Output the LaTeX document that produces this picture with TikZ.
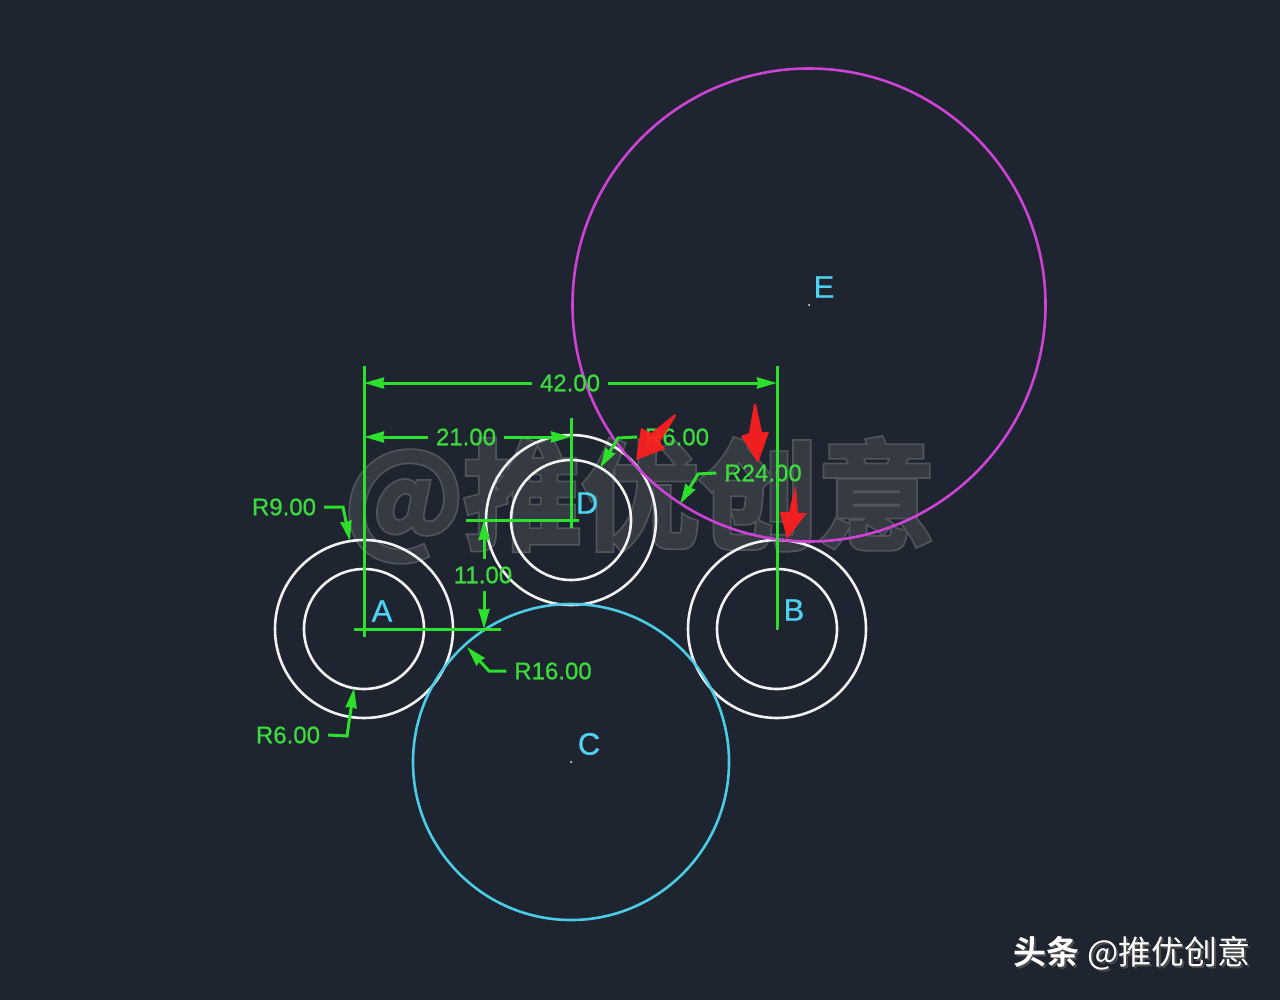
\documentclass[tikz,border=0pt]{standalone}
\usepackage{fontspec}
\usepackage{xcolor}
\usetikzlibrary{arrows.meta}
\setmainfont{Liberation Sans}
\newfontfamily\dimfont{Liberation Sans}[FakeBold=0.7]
\newfontfamily\cjk{Noto Sans CJK SC}[BoldFont={Noto Sans CJK SC Bold}]
\newfontfamily\cjkedge{Noto Sans CJK SC Bold}[FakeBold=4.5]
\newfontfamily\cjkinner{Noto Sans CJK SC Bold}[FakeBold=1.5]
\definecolor{bgcad}{HTML}{1E2530}
\definecolor{dimgreen}{HTML}{2CE02C}
\definecolor{textgreen}{HTML}{3CDC3C}
\definecolor{lettercyan}{HTML}{4FD2F0}
\definecolor{circcyan}{HTML}{4CCBE4}
\definecolor{circpurple}{HTML}{CF42D6}
\definecolor{markfill}{HTML}{353A43}
\definecolor{markedge}{HTML}{50545B}
\definecolor{markred}{HTML}{FF1F1F}

\begin{document}
\begin{tikzpicture}[%
	x=1pt, y=-1pt,
	dimline/.style={draw=dimgreen, line width=3pt},
	dimtip/.style={dimline, -{Stealth[length=20pt,width=11pt,inset=1pt]}},
	dimtext/.style={text=textgreen, font=\dimfont\fontsize{24}{24}\selectfont, inner xsep=8pt, inner ysep=8pt, outer sep=0pt},
	letter/.style={text=lettercyan, font=\dimfont\fontsize{31}{31}\selectfont, inner sep=0pt},
	whitecirc/.style={draw=white!95!black, line width=2.6pt},
	redarrow/.style={fill=markred, draw=none, opacity=.93}]
	\useasboundingbox (0,0) rectangle (1280,1000);
	\fill[bgcad] (0,0) rectangle (1280,1000);
	% centres
	\coordinate (ctrA) at (364,629);
	\coordinate (ctrB) at (777,629);
	\coordinate (ctrC) at (571,762);
	\coordinate (ctrD) at (571,520);
	\coordinate (ctrE) at (809,305);
	% watermark
	\node[text=markedge, font=\cjkedge\fontsize{118}{118}\selectfont, inner sep=0pt] (markEdge) at (640,500) {@推优创意};
	\node[text=markfill, font=\cjkinner\fontsize{118}{118}\selectfont, inner sep=0pt] (markFill) at (640,500) {@推优创意};
	% circles
	\draw[whitecirc] (ctrA) circle [radius=89];
	\draw[whitecirc] (ctrA) circle [radius=60];
	\draw[whitecirc] (ctrB) circle [radius=89];
	\draw[whitecirc] (ctrB) circle [radius=60];
	\draw[whitecirc] (ctrD) circle [radius=85];
	\draw[whitecirc] (ctrD) circle [radius=60];
	\draw[draw=circcyan, line width=2.6pt] (ctrC) circle [radius=158];
	\draw[draw=circpurple, line width=2.6pt] (ctrE) circle [radius=236.5];
	\fill[white] (ctrC) circle [radius=1];
	\fill[white] (ctrE) circle [radius=1];
	\fill[white] (ctrB) circle [radius=1];
	% extension lines
	\coordinate (extAtop) at (364,366);
	\coordinate (extAend) at (364,637);
	\coordinate (extBtop) at (777,366);
	\coordinate (extDtop) at (571,418);
	\coordinate (extDend) at (571,528);
	\coordinate (extHa) at (354,629);
	\coordinate (extHb) at (501,629);
	\coordinate (extHc) at (466,520);
	\coordinate (extHd) at (579,520);
	\draw[dimline] (extAtop) -- (extAend);
	\draw[dimline] (extBtop) -- (ctrB);
	\draw[dimline] (extDtop) -- (extDend);
	\draw[dimline] (extHa) -- (extHb);
	\draw[dimline] (extHc) -- (extHd);
	% dimensions
	\node[dimtext] (dimFortytwo) at (570,383) {42.00};
	\coordinate (tipLa) at (364,383);
	\coordinate (tipLb) at (777,383);
	\draw[dimtip] (dimFortytwo.west) -- (tipLa);
	\draw[dimtip] (dimFortytwo.east) -- (tipLb);
	\node[dimtext] (dimTwentyone) at (466,437) {21.00};
	\coordinate (tipMa) at (364,437);
	\coordinate (tipMb) at (571,437);
	\draw[dimtip] (dimTwentyone.west) -- (tipMa);
	\draw[dimtip] (dimTwentyone.east) -- (tipMb);
	\node[dimtext] (dimEleven) at (483,575) {11.00};
	\coordinate (tipVa) at (484,520);
	\coordinate (tipVb) at (484,629);
	\draw[dimtip] (dimEleven.north -| tipVa) -- (tipVa);
	\draw[dimtip] (dimEleven.south -| tipVb) -- (tipVb);
	% radius labels
	\node[dimtext] (radNine) at (284,507) {R9.00};
	\coordinate (kneeNine) at (343,507);
	\coordinate (tipNine) at (350,541);
	\draw[dimtip] (radNine.east) -- (kneeNine) -- (tipNine);
	\node[dimtext] (radSix) at (288,735) {R6.00};
	\coordinate (kneeSix) at (347,736);
	\coordinate (tipSix) at (354,688);
	\draw[dimtip] (radSix.east) -- (kneeSix) -- (tipSix);
	\node[dimtext] (radSixteen) at (553,671) {R16.00};
	\coordinate (kneeSixteen) at (489,671);
	\coordinate (tipSixteen) at (467,647);
	\draw[dimtip] (radSixteen.west) -- (kneeSixteen) -- (tipSixteen);
	\node[dimtext] (radTwentyfour) at (763,473) {R24.00};
	\coordinate (kneeTwentyfour) at (698,474);
	\coordinate (tipTwentyfour) at (680,504);
	\draw[dimtip] (radTwentyfour.west) -- (kneeTwentyfour) -- (tipTwentyfour);
	\node[dimtext] (radSixD) at (677,437) {R6.00};
	\coordinate (kneeSixD) at (618,438);
	\coordinate (tipSixD) at (600,468);
	\draw[dimtip] (radSixD.west) -- (kneeSixD) -- (tipSixD);
	% point letters
	\node[letter] (lblA) at (382,611) {A};
	\node[letter] (lblB) at (794,610) {B};
	\node[letter] (lblC) at (589,744) {C};
	\node[letter] (lblD) at (587,503) {D};
	\node[letter] (lblE) at (824,287) {E};
	% red arrows
	\fill[redarrow] (675,414) -- (676,416) -- (660,442) -- (665,449) -- (636,460) -- (641,428) -- (651,433) -- cycle;
	\fill[redarrow] (754,404) -- (756,404) -- (762,432) -- (769,432) -- (758,463) -- (741,436) -- (749,433) -- cycle;
	\fill[redarrow] (795,487) -- (796,487) -- (798,513) -- (807,513) -- (787,539) -- (780,512) -- (789,512) -- cycle;
	% footer
	\node[text=black!70, font=\cjk\fontsize{33}{33}\selectfont, inner sep=0pt] (footShadow) at (1134,955) {\textbf{头条} @推优创意};
	\node[text=white, font=\cjk\fontsize{33}{33}\selectfont, inner sep=0pt] (footText) at (1132,953) {\textbf{头条} @推优创意};
\end{tikzpicture}
\end{document}
